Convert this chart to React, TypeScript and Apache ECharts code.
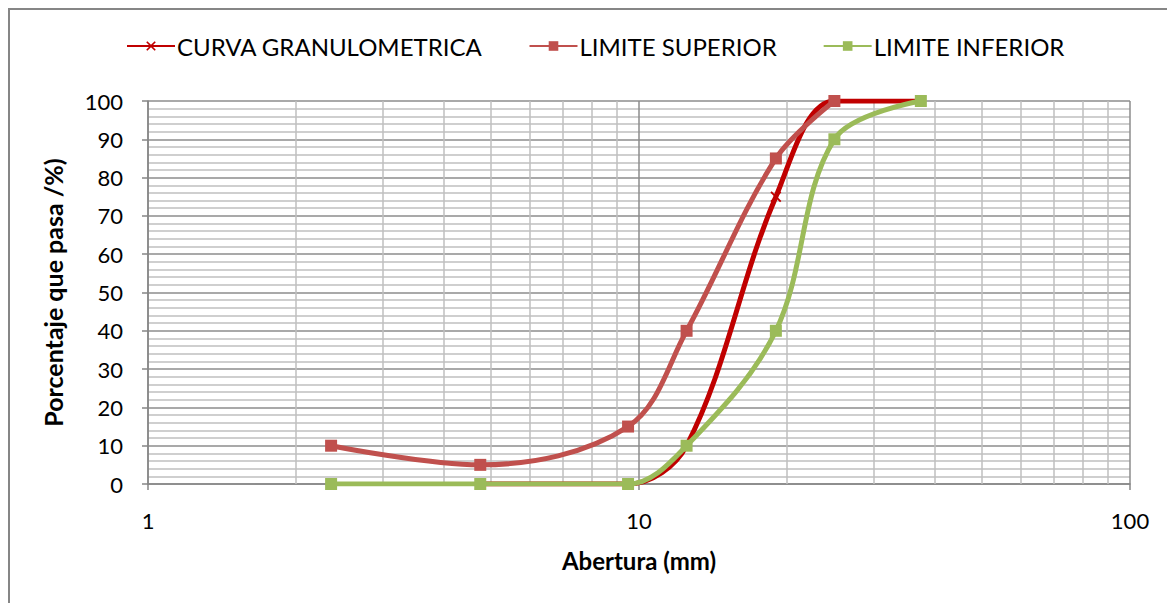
import React, { useEffect, useRef } from "react";
import * as echarts from "echarts";

const sieves = [2.36, 4.75, 9.5, 12.5, 19, 25, 37.5];
const curvaSieves = [4.75, 9.5, 12.5, 19, 25, 37.5];
const curvaPass = [0, 0, 10, 75, 100, 100];
const superiorSieves = [2.36, 4.75, 9.5, 12.5, 19, 25];
const superiorPass = [10, 5, 15, 40, 85, 100];
const inferiorPass = [0, 0, 0, 10, 40, 90, 100];
const minorX = [2, 3, 4, 5, 6, 7, 8, 9, 20, 30, 40, 50, 60, 70, 80, 90];
const seriesNames = ["CURVA GRANULOMETRICA", "LIMITE SUPERIOR", "LIMITE INFERIOR"];

const FONT = "Lato, 'Noto Sans', sans-serif";
const X_PATH =
  "path://M0,1.2L1.2,0L5,3.8L8.8,0L10,1.2L6.2,5L10,8.8L8.8,10L5,6.2L1.2,10L0,8.8L3.8,5Z";

export default function App() {
  const ref = useRef<HTMLDivElement>(null);
  useEffect(() => {
    if (!ref.current) return;
    const chart = echarts.init(ref.current, null, { renderer: "svg" });
    const zip = (xs: number[], ys: number[]) => xs.map((x, i) => [x, ys[i]]);
    chart.setOption({
      animation: false,
      backgroundColor: "#ffffff",
      textStyle: { fontFamily: FONT },
      legend: {
        left: 111,
        top: 19,
        itemWidth: 48,
        itemHeight: 12,
        itemGap: 46,
        textStyle: { fontSize: 24, color: "#000", fontFamily: FONT, padding: [0, 0, 0, -3] },
        data: seriesNames,
      },
      grid: { left: 138, right: 45, top: 91, bottom: 119 },
      xAxis: {
        type: "log",
        logBase: 10,
        min: 1,
        max: 100,
        name: "Abertura (mm)",
        nameLocation: "middle",
        nameGap: 64,
        nameTextStyle: { fontSize: 24, fontWeight: "bold", color: "#000", fontFamily: FONT },
        axisLine: { lineStyle: { color: "#868686", width: 1.5 } },
        axisTick: { show: true, length: 6, lineStyle: { color: "#868686", width: 1.5 } },
        axisLabel: { fontSize: 22, color: "#000", margin: 25, fontFamily: FONT },
        splitLine: { show: true, lineStyle: { color: "#8c8c8c", width: 1.5 } },
      },
      yAxis: {
        type: "value",
        min: 0,
        max: 100,
        interval: 10,
        name: "Porcentaje que pasa /%)",
        nameLocation: "middle",
        nameGap: 83,
        nameTextStyle: { fontSize: 25, fontWeight: "bold", color: "#000", fontFamily: FONT },
        axisLine: { show: true, lineStyle: { color: "#868686", width: 1.5 } },
        axisTick: { show: true, length: 6, lineStyle: { color: "#868686", width: 1.5 } },
        axisLabel: { fontSize: 22, color: "#000", margin: 25, fontFamily: FONT },
        splitLine: { show: true, lineStyle: { color: "#8c8c8c", width: 1.5 } },
        minorTick: { show: false, splitNumber: 5 },
        minorSplitLine: { show: true, lineStyle: { color: "#bfbfbf", width: 1.5 } },
      },
      series: [
        {
          name: seriesNames[0],
          type: "line",
          z: 3,
          smooth: 0.35,
          data: zip(curvaSieves, curvaPass),
          symbol: X_PATH,
          symbolSize: 11,
          showAllSymbol: true,
          lineStyle: { color: "#c00000", width: 5 },
          itemStyle: { color: "#c00000" },
          markLine: {
            silent: true,
            z: 1,
            symbol: "none",
            label: { show: false },
            lineStyle: { color: "#bfbfbf", width: 1.5, type: "solid" },
            data: minorX.map((v) => ({ xAxis: v })),
          },
        },
        {
          name: seriesNames[1],
          type: "line",
          z: 4,
          smooth: 0.35,
          data: zip(superiorSieves, superiorPass),
          symbol: "rect",
          symbolSize: 12,
          lineStyle: { color: "#c0504d", width: 5 },
          itemStyle: { color: "#c0504d" },
        },
        {
          name: seriesNames[2],
          type: "line",
          z: 5,
          smooth: 0.35,
          data: zip(sieves, inferiorPass),
          symbol: "rect",
          symbolSize: 12,
          lineStyle: { color: "#9bbb59", width: 5 },
          itemStyle: { color: "#9bbb59" },
        },
      ],
    });
    return () => chart.dispose();
  }, []);
  return (
    <div
      style={{
        width: 1167,
        height: 595,
        boxSizing: "border-box",
        borderTop: "2px solid #868686",
        borderLeft: "2px solid #868686",
        background: "#fff",
      }}
    >
      <div ref={ref} style={{ width: 1165, height: 593 }} />
    </div>
  );
}
